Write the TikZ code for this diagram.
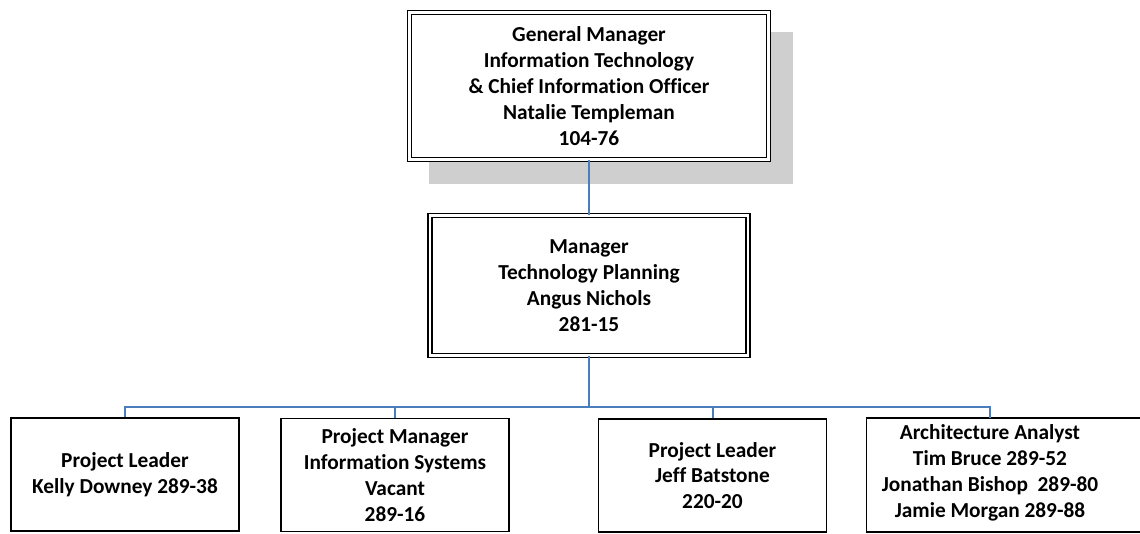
\documentclass[tikz,border=0pt]{standalone}
\usepackage{fontspec}
\setmainfont{Carlito}[Ligatures=NoCommon]
\usetikzlibrary{positioning, backgrounds}
\definecolor{linkblue}{HTML}{4A7EBB}
\definecolor{shadowgray}{HTML}{CFCFCF}

\begin{document}
\begin{tikzpicture}[x=0.75pt, y=-0.75pt]
    \tikzstyle{post}=[align=center, inner sep=0pt
    , font=\bfseries\fontsize{16}{19.4}\selectfont]
    \tikzstyle{postbox}=[post, draw=black, line width=1.1pt
    , minimum width=171pt, minimum height=85pt]
    \tikzstyle{headbox}=[post, draw=black, fill=white, line width=0.8pt, double, double distance=2.2pt]
    \tikzstyle{link}=[draw=linkblue, line width=1.5pt]
    \useasboundingbox (0,0) rectangle (1140,533);
    \clip (0,0) rectangle (1140,533);

    \node[headbox, minimum width=269pt, minimum height=110pt] (gm) at (589,86)
        {General Manager\\ Information Technology\\ \& Chief Information Officer\\ Natalie Templeman\\ 104-76};
    \node[headbox, minimum width=238.5pt, minimum height=105pt] (mgr) at (589,285.5)
        {Manager\\ Technology Planning\\ Angus Nichols\\ 281-15};

    \node[postbox] (pl1) at (125,474.5) {Project Leader\\ Kelly Downey 289-38};
    \node[postbox] (pm) at (395,475) {Project Manager\\ Information Systems\\ Vacant\\ 289-16};
    \node[postbox] (pl2) at (712.5,475.5) {Project Leader\\ Jeff Batstone\\ 220-20};
    \node[post, minimum width=184.5pt, minimum height=85pt] (aa) at (990,473)
        {Architecture Analyst\\ Tim Bruce 289-52\\ Jonathan Bishop~~289-80\\ Jamie Morgan 289-88};
    \draw[draw=black, line width=1.1pt] ([yshift=-1.5pt]aa.north west) rectangle ([xshift=60pt, yshift=-1.5pt]aa.south east);

    % shadow
    \begin{scope}[on background layer]
        \fill[shadowgray] ([shift={(19.5,19.5)}]gm.north west) rectangle ([shift={(24.5,24.5)}]gm.south east);
    \end{scope}

    % links
    \coordinate (bar) at (589,407);
    \draw[link] (gm.south) -- (mgr.north);
    \draw[link] (mgr.south) -- (bar);
    \foreach \n in {pl1, pm, pl2}
        \draw[link] (bar) -| (\n.north);
    \draw[link] (bar) -| ([yshift=-1.5pt]aa.north);

\end{tikzpicture}
\end{document}
